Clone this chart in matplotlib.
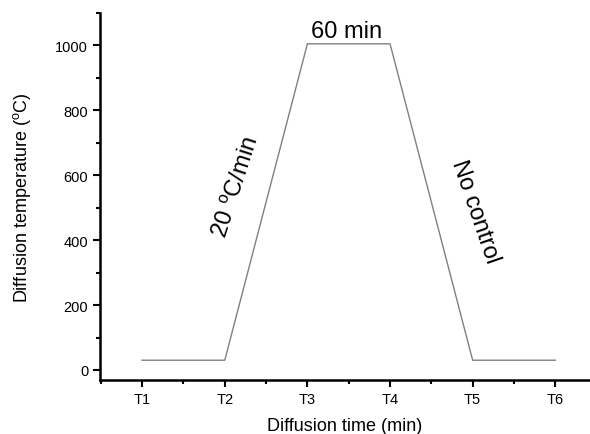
import numpy as np
import matplotlib.pyplot as plt
from matplotlib.ticker import MultipleLocator

plt.rcParams['font.family'] = ['Liberation Sans', 'DejaVu Sans']
plt.rcParams['mathtext.fontset'] = 'custom'
plt.rcParams['mathtext.rm'] = 'Liberation Sans'
plt.rcParams['mathtext.it'] = 'Liberation Sans'

# process steps and temperature profile
steps = [1, 2, 3, 4, 5, 6]
step_labels = ['T1', 'T2', 'T3', 'T4', 'T5', 'T6']
temps = [30, 30, 1005, 1005, 30, 30]

fig = plt.figure(figsize=(5.9, 4.35), dpi=100)
ax = fig.add_axes([0.1695, 0.1241, 0.8305, 0.8437])

ax.plot(steps, temps, color='#808080', lw=1.0)

ax.set_xlim(0.49, 6.42)
ax.set_ylim(-31, 1100)

ax.set_xticks(steps)
ax.set_xticklabels(step_labels)
ax.xaxis.set_minor_locator(MultipleLocator(0.5))
ax.set_yticks(np.arange(0, 1001, 200))
ax.yaxis.set_minor_locator(MultipleLocator(100))

for s in ['top', 'right']:
    ax.spines[s].set_visible(False)
for s in ['left', 'bottom']:
    ax.spines[s].set_linewidth(1.8)

ax.tick_params(which='major', direction='out', length=5, width=1.5, labelsize=10.5)
ax.tick_params(which='minor', direction='out', length=3, width=1.5)

ax.set_xlabel('Diffusion time (min)', fontsize=13, labelpad=8)
ax.set_ylabel('Diffusion temperature ($^{\\rm o}$C)', fontsize=13, labelpad=16)

# annotations
ax.text(3.47, 1012, '60 min', fontsize=17, ha='center', va='bottom')
ax.text(2.14, 566, '20 $^{\\rm o}$C/min', fontsize=17, ha='center', va='center', rotation=72)
ax.text(5.03, 489, 'No control', fontsize=17, ha='center', va='center', rotation=-71)

plt.savefig('out.png', dpi=100)
